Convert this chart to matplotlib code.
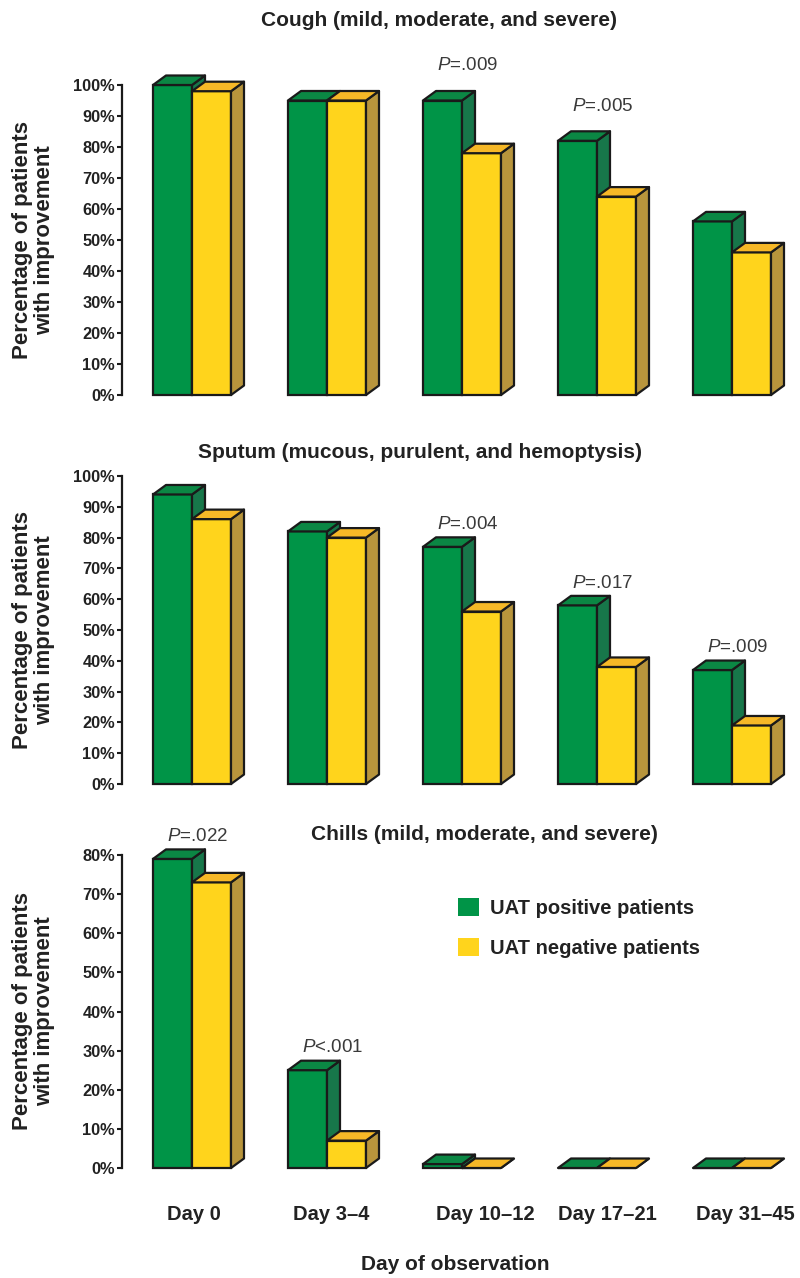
import matplotlib
matplotlib.use('Agg')
import matplotlib.pyplot as plt
from matplotlib.patches import Polygon, Patch
import numpy as np

plt.rcParams['font.family'] = 'Liberation Sans'
plt.rcParams['mathtext.fontset'] = 'custom'
plt.rcParams['mathtext.rm'] = 'Liberation Sans'
plt.rcParams['mathtext.it'] = 'Liberation Sans:italic'
for k in ['text.color', 'axes.labelcolor', 'xtick.color', 'ytick.color']:
    plt.rcParams[k] = '#222222'

# data (% of patients with improvement)
days = ['Day 0', 'Day 3\u20134', 'Day 10\u201312', 'Day 17\u201321', 'Day 31\u201345']

cough_pos = [100, 95, 95, 82, 56]
cough_neg = [98, 95, 78, 64, 46]
cough_p = ['', '', '=.009', '=.005', '']

sputum_pos = [94, 82, 77, 58, 37]
sputum_neg = [86, 80, 56, 38, 19]
sputum_p = ['', '', '=.004', '=.017', '=.009']

chills_pos = [79, 25, 1, 0, 0]
chills_neg = [73, 7, 0, 0, 0]
chills_p = ['=.022', '<.001', '', '', '']

W, H = 800, 1278
fig = plt.figure(figsize=(W / 100, H / 100), dpi=100)

GREEN = ('#009447', '#0b8744', '#17774a')   # front, top, side
YELLOW = ('#ffd41c', '#f6b827', '#b8953c')
EDGE = '#1a1a1a'
LW = 1.6
PX_UNIT = 135.0          # pixels per day group
BAR_W = 39 / PX_UNIT
DX_PX, DY_PX = 13, 9.5   # 3d depth in pixels


def box(ax, x0, h, cols, z):
    dx = DX_PX / PX_UNIT
    dy = DY_PX / ax.bbox.height * ax.get_ylim()[1]
    ax.bar(x0, h, BAR_W, align='edge', color=cols[0], edgecolor=EDGE,
           lw=LW, zorder=z, clip_on=False)
    x1 = x0 + BAR_W
    side = Polygon([(x1, 0), (x1 + dx, dy), (x1 + dx, h + dy), (x1, h)],
                   closed=True, fc=cols[2], ec=EDGE, lw=LW, zorder=z + 1,
                   clip_on=False, joinstyle='round')
    top = Polygon([(x0, h), (x1, h), (x1 + dx, h + dy), (x0 + dx, h + dy)],
                  closed=True, fc=cols[1], ec=EDGE, lw=LW, zorder=z + 2,
                  clip_on=False, joinstyle='round')
    ax.add_patch(side)
    ax.add_patch(top)


def panel(top_px, bottom_px, ymax, pos, neg, pvals, p_off):
    ax = fig.add_axes([122 / W, 1 - bottom_px / H, 668 / W, (bottom_px - top_px) / H])
    ax.set_xlim(-70 / PX_UNIT, 598 / PX_UNIT)
    ax.set_ylim(0, ymax)
    x = np.arange(len(days))
    z = 2
    for i in x:
        box(ax, i - BAR_W, pos[i], GREEN, z)
        box(ax, i, neg[i], YELLOW, z + 3)
        z += 6
        if pvals[i]:
            ax.annotate('$P$' + pvals[i], xy=(i + 0.04, pos[i]), xytext=(0, p_off),
                        textcoords='offset points', ha='center', va='center',
                        fontsize=13.5, color='#3a3a3a', annotation_clip=False)
    for s in ['top', 'right', 'bottom']:
        ax.spines[s].set_visible(False)
    ax.spines['left'].set_bounds(0, ymax)
    ax.spines['left'].set_linewidth(1.6)
    ax.spines['left'].set_color(EDGE)
    ticks = list(range(0, ymax + 1, 10))
    ax.set_yticks(ticks, [f'{t}%' for t in ticks], fontweight='bold')
    ax.tick_params(axis='y', length=3.6, width=1.5, pad=1.5, labelsize=11.8, color=EDGE)
    ax.set_xticks([])
    ax.set_ylabel('Percentage of patients\nwith improvement', fontsize=16,
                  fontweight='bold', linespacing=1.1)
    ax.yaxis.set_label_coords(-0.1, 0.5)
    return ax


panel(85, 395, 100, cough_pos, cough_neg, cough_p, 25)
panel(476, 784, 100, sputum_pos, sputum_neg, sputum_p, 16)
ax3 = panel(855, 1168, 80, chills_pos, chills_neg, chills_p, 16)

label_nudge = [0.015, 0.03, 0.17, 0.08, 0.1]
ax3.set_xticks(np.arange(len(days)) + np.array(label_nudge), days,
               fontweight='bold', fontsize=14.5)
ax3.tick_params(axis='x', length=0, pad=27)

fig.text(439 / W, 1 - 20 / H, 'Cough (mild, moderate, and severe)',
         ha='center', va='center', fontsize=15, fontweight='bold')
fig.text(420 / W, 1 - 452 / H, 'Sputum (mucous, purulent, and hemoptysis)',
         ha='center', va='center', fontsize=15, fontweight='bold')
fig.text(484 / W, 1 - 834 / H, 'Chills (mild, moderate, and severe)',
         ha='center', va='center', fontsize=15, fontweight='bold')
fig.text(455 / W, 1 - 1265 / H, 'Day of observation',
         ha='center', va='center', fontsize=15, fontweight='bold')

handles = [Patch(fc=GREEN[0], ec='none', label='UAT positive patients'),
           Patch(fc=YELLOW[0], ec='none', label='UAT negative patients')]
fig.legend(handles=handles, loc='upper left', bbox_to_anchor=(458 / W, 1 - 898 / H),
           frameon=False, prop={'weight': 'bold', 'size': 14.5},
           handlelength=1.05, handleheight=1.0, handletextpad=0.55,
           labelspacing=1.0, borderpad=0, borderaxespad=0, labelcolor='#222222')

fig.savefig('out.png', dpi=100)
